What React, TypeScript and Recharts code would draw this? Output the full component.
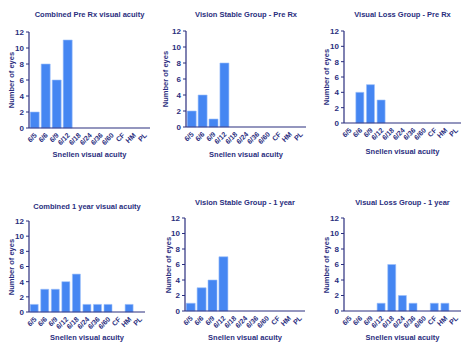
import { Bar, BarChart, XAxis, YAxis } from 'recharts';

const CATEGORIES = ['6/5', '6/6', '6/9', '6/12', '6/18', '6/24', '6/36', '6/60', 'CF', 'HM', 'PL'];
const Y_TICKS = [0, 2, 4, 6, 8, 10, 12];

const COMBINED_PRE = [2, 8, 6, 11, 0, 0, 0, 0, 0, 0, 0];
const STABLE_PRE = [2, 4, 1, 8, 0, 0, 0, 0, 0, 0, 0];
const LOSS_PRE = [0, 4, 5, 3, 0, 0, 0, 0, 0, 0, 0];
const COMBINED_1Y = [1, 3, 3, 4, 5, 1, 1, 1, 0, 1, 0];
const STABLE_1Y = [1, 3, 4, 7, 0, 0, 0, 0, 0, 0, 0];
const LOSS_1Y = [0, 0, 0, 1, 6, 2, 1, 0, 1, 1, 0];

const NAVY = '#2a2e7e';
const BLUE = '#4586f2';
const FONT = '"Liberation Sans", Arial, sans-serif';

type PanelProps = {
  title: string;
  values: number[];
  L: number;
  R: number;
  T: number;
  B: number;
  titleY: number;
  xLabelY: number;
  yLabelX: number;
};

// angled category label, its end sits just under the axis
function RotatedTick({ x, y, payload }: any) {
  const ax = x + 1;
  const ay = y - 2;
  return (
    <text
      x={ax}
      y={ay}
      transform={`rotate(-45, ${ax}, ${ay})`}
      textAnchor="end"
      dominantBaseline="central"
      fontSize={7}
      fontWeight="bold"
      fill={NAVY}
      fontFamily={FONT}
    >
      {payload.value}
    </text>
  );
}

function Panel({ title, values, L, R, T, B, titleY, xLabelY, yLabelX }: PanelProps) {
  const panelX = L - 30;
  const panelY = T - 10;
  const W = R - panelX + 4;
  const H = B - panelY + 30;
  const data = CATEGORIES.map((c, i) => ({ cat: c, value: values[i] }));
  const cx = (L + R) / 2;
  const text = { position: 'absolute' as const, fontFamily: FONT, fontWeight: 'bold' as const, color: NAVY, whiteSpace: 'nowrap' as const };

  return (
    <>
      <div style={{ ...text, left: cx - 80, width: 160, top: titleY - 5, fontSize: 7.5, textAlign: 'center', lineHeight: '10px' }}>{title}</div>
      <div style={{ ...text, left: cx - 80, width: 160, top: xLabelY - 5, fontSize: 7.5, textAlign: 'center', lineHeight: '10px' }}>
        Snellen visual acuity
      </div>
      <div
        style={{
          ...text,
          left: yLabelX - 50,
          width: 100,
          top: (T + B) / 2 - 5,
          fontSize: 7.5,
          textAlign: 'center',
          lineHeight: '10px',
          transform: 'rotate(-90deg)',
        }}
      >
        Number of eyes
      </div>
      <div style={{ position: 'absolute', left: panelX, top: panelY }}>
        <BarChart
          width={W}
          height={H}
          data={data}
          margin={{ top: T - panelY, right: panelX + W - R, bottom: 0, left: 0 }}
          barCategoryGap={1.2}
        >
          <XAxis
            dataKey="cat"
            interval={0}
            tickLine={false}
            axisLine={{ stroke: NAVY, strokeWidth: 1.2 }}
            tick={<RotatedTick />}
            height={panelY + H - B}
          />
          <YAxis
            domain={[0, 12]}
            ticks={Y_TICKS}
            interval={0}
            width={L - panelX}
            tickSize={3}
            tickLine={{ stroke: NAVY }}
            axisLine={{ stroke: NAVY, strokeWidth: 1.2 }}
            tick={{ fontSize: 8, fontWeight: 'bold', fill: NAVY, fontFamily: FONT }}
          />
          <Bar dataKey="value" fill={BLUE} stroke="#9cc0fa" strokeWidth={0.6} isAnimationActive={false} />
        </BarChart>
      </div>
    </>
  );
}

export default function App() {
  return (
    <div style={{ position: 'absolute', left: 0, top: 0, width: 468, height: 345, background: '#fff', overflow: 'hidden' }}>
      <Panel title="Combined Pre Rx visual acuity" values={COMBINED_PRE} L={29} R={150} T={32} B={128} titleY={15} xLabelY={155} yLabelX={12} />
      <Panel title="Vision Stable Group - Pre Rx" values={STABLE_PRE} L={186} R={306} T={31} B={127} titleY={15} xLabelY={155} yLabelX={166} />
      <Panel title="Visual Loss Group - Pre Rx" values={LOSS_PRE} L={344} R={461} T={31} B={123} titleY={15} xLabelY={152} yLabelX={327} />
      <Panel title="Combined 1 year visual acuity" values={COMBINED_1Y} L={29} R={145} T={221} B={312} titleY={207} xLabelY={338} yLabelX={12} />
      <Panel title="Vision Stable Group - 1 year" values={STABLE_1Y} L={185} R={305} T={218} B={311} titleY={203} xLabelY={338} yLabelX={169} />
      <Panel title="Visual Loss Group - 1 year" values={LOSS_1Y} L={344} R={461} T={218} B={311} titleY={203} xLabelY={338} yLabelX={327} />
    </div>
  );
}
